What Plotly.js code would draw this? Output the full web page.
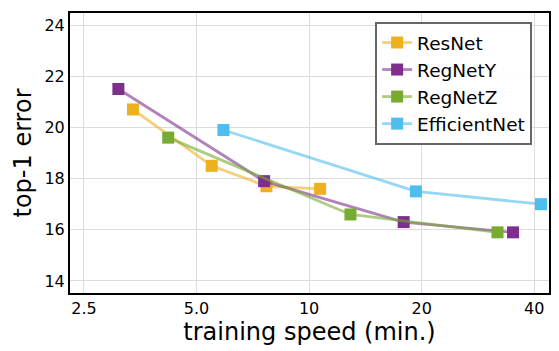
<!DOCTYPE html>
<html>
<head>
<meta charset="utf-8">
<script src="https://cdn.plot.ly/plotly-3.0.1.min.js"></script>
<style>html,body{margin:0;padding:0;background:#fff;}#chart{width:559px;height:351px;}</style>
</head>
<body>
<div id="chart"></div>
<script>
const seriesNames = ['ResNet', 'RegNetY', 'RegNetZ', 'EfficientNet'];
const resnetSpeed = [3.38, 5.49, 7.69, 10.7];
const resnetError = [20.7, 18.5, 17.7, 17.6];
const regnetySpeed = [3.09, 7.58, 17.9, 35.1];
const regnetyError = [21.5, 17.9, 16.3, 15.9];
const regnetzSpeed = [4.2, 12.9, 31.9];
const regnetzError = [19.6, 16.6, 15.9];
const effnetSpeed = [5.9, 19.3, 41.7];
const effnetError = [19.9, 17.5, 17.0];
const xTickVals = [2.5, 5, 10, 20, 40];
const xTickText = ['2.5', '5.0', '10', '20', '40'];
const yTickVals = [14, 16, 18, 20, 22, 24];

const colors = ['#EDB120', '#7E2F8E', '#77AC30', '#4DBEEE'];
const lineColors = ['rgba(237,177,32,0.6)', 'rgba(126,47,142,0.6)', 'rgba(119,172,48,0.6)', 'rgba(77,190,238,0.6)'];
const xs = [resnetSpeed, regnetySpeed, regnetzSpeed, effnetSpeed];
const ys = [resnetError, regnetyError, regnetzError, effnetError];

const traces = seriesNames.map((n, i) => ({
  x: xs[i], y: ys[i], name: n, type: 'scatter', mode: 'lines+markers',
  legendgroup: 'g' + i,
  line: {color: lineColors[i], width: 2.8},
  marker: {symbol: 'square', size: 12, color: colors[i], line: {width: 0}}
}));

const layout = {
  width: 559, height: 351,
  margin: {l: 70, r: 10, t: 13, b: 58},
  paper_bgcolor: '#fff', plot_bgcolor: '#fff',
  font: {family: 'DejaVu Sans', color: '#000'},
  showlegend: true,
  legend: {
    x: 0.637, y: 0.968, xanchor: 'left', yanchor: 'top',
    bgcolor: 'rgba(255,255,255,0.9)', bordercolor: '#666', borderwidth: 2,
    font: {size: 18.5, family: 'DejaVu Sans'}, tracegroupgap: 0, traceorder: 'grouped',
    itemwidth: 30, entrywidth: 150, entrywidthmode: 'pixels'
  },
  xaxis: {
    type: 'log', range: [Math.log10(2.294), Math.log10(43.8)],
    tickvals: xTickVals, ticktext: xTickText,
    tickfont: {size: 16}, ticks: '',
    showgrid: true, gridcolor: '#dcdcdc', gridwidth: 1,
    showline: true, linecolor: '#000', linewidth: 2, mirror: true,
    zeroline: false,
    title: {text: 'training speed (min.)', font: {size: 24}, standoff: 2}
  },
  yaxis: {
    range: [13.53, 24.47],
    tickvals: yTickVals, tickfont: {size: 16}, ticks: '',
    showgrid: true, gridcolor: '#dcdcdc', gridwidth: 1,
    showline: true, linecolor: '#000', linewidth: 2, mirror: true,
    zeroline: false,
    title: {text: 'top-1 error', font: {size: 24}, standoff: 6}
  }
};

Plotly.newPlot('chart', traces, layout, {displayModeBar: false, staticPlot: true});
</script>
</body>
</html>
